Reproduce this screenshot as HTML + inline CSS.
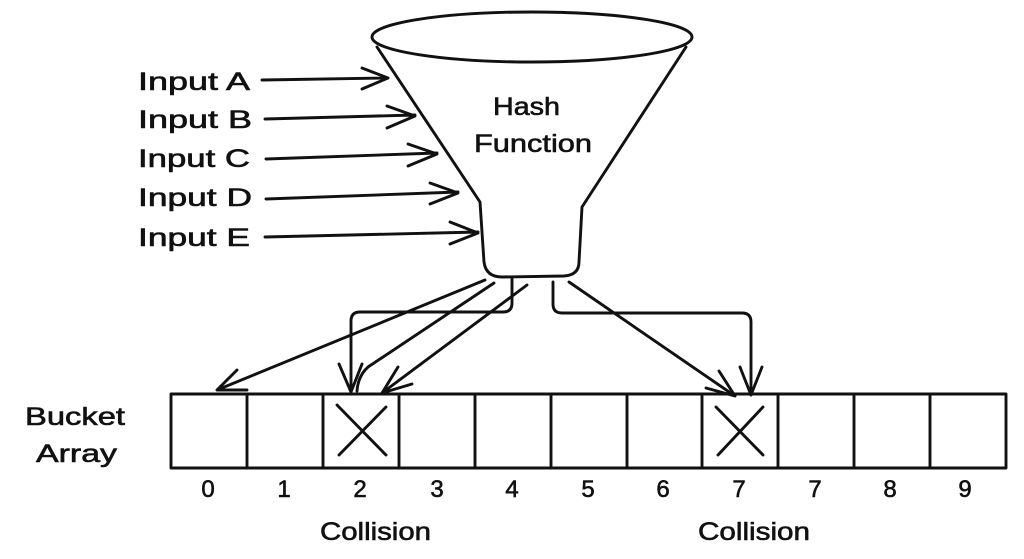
<!DOCTYPE html>
<html><head><meta charset="utf-8"><style>
html,body{margin:0;padding:0;background:#fff;}
svg{display:block;}
text{font-family:"Liberation Sans",sans-serif;fill:#111;stroke:#111;stroke-width:0.6px;}
</style></head><body>
<svg width="1024" height="559" viewBox="0 0 1024 559" xmlns="http://www.w3.org/2000/svg">
<rect width="1024" height="559" fill="#fff"/>
<g fill="none" stroke="#111" stroke-width="2.9" stroke-linecap="round" stroke-linejoin="round">
  <!-- funnel -->
  <path d="M377,47 L480,202 L484,262 Q486,277 502,277 L564,276 Q579,275 579,262 L582,207 L686,47" fill="#fff"/>
  <ellipse cx="532" cy="37" rx="160" ry="25" fill="#fff"/>
  <!-- input arrows -->
  <path d="M262,80 L388,78 M362,68 L388,78 L362,89"/>
  <path d="M265,119 L415,115 M387,106 L415,116 L387,128"/>
  <path d="M266,159 L437,153 M408,144 L437,154 L408,166"/>
  <path d="M266,199 L458,192 M430,183 L458,193 L430,204"/>
  <path d="M265,237 L478,232 M450,222 L478,233 L450,244"/>
  <!-- output arrows -->
  <path d="M485,280 L217,390 M237,370 L217,390 L247,390"/>
  <path d="M512,278 L512,303 Q512,312 503,312 L360,312 Q351,312 351,321 L351,392 M339,364 L351,392 L362,364"/>
  <path d="M494,283 L368,367 Q358,376 357,391"/>
  <path d="M527,285 L382,393 M398,367 L382,393 L412,384"/>
  <path d="M569,282 L735,396 M719,371 L735,396 L706,388"/>
  <path d="M553,282 L553,304 Q553,313 562,313 L742,313 Q751,313 751,322 L751,395 M740,367 L751,395 L762,367"/>
  <!-- bucket array -->
  <rect x="171" y="394" width="835" height="74"/>
  <path d="M247,394 V468 M323,394 V468 M399,394 V468 M475,394 V468 M551,394 V468 M627,394 V468 M702,394 V468 M778,394 V468 M854,394 V468 M930,394 V468"/>
  <!-- X marks -->
  <path d="M337,405 L386,455 M386,407 L339,455"/>
  <path d="M716,407 L763,455 M763,407 L718,455"/>
</g>
<!-- labels -->
<g font-size="25">
  <text x="138" y="90" textLength="112" lengthAdjust="spacingAndGlyphs">Input A</text>
  <text x="138" y="128" textLength="114" lengthAdjust="spacingAndGlyphs">Input B</text>
  <text x="138" y="167" textLength="112" lengthAdjust="spacingAndGlyphs">Input C</text>
  <text x="138" y="206" textLength="114" lengthAdjust="spacingAndGlyphs">Input D</text>
  <text x="138" y="246" textLength="112" lengthAdjust="spacingAndGlyphs">Input E</text>
  <text x="493" y="115" textLength="67" lengthAdjust="spacingAndGlyphs">Hash</text>
  <text x="474" y="152" textLength="118" lengthAdjust="spacingAndGlyphs">Function</text>
  <text x="25" y="425" textLength="100" lengthAdjust="spacingAndGlyphs">Bucket</text>
  <text x="36" y="462" textLength="81" lengthAdjust="spacingAndGlyphs">Array</text>
  <text x="320" y="540" textLength="111" lengthAdjust="spacingAndGlyphs">Collision</text>
  <text x="698" y="540" textLength="112" lengthAdjust="spacingAndGlyphs">Collision</text>
</g>
<g font-size="24" text-anchor="middle">
  <text x="208" y="497">0</text>
  <text x="284" y="497">1</text>
  <text x="360" y="497">2</text>
  <text x="437" y="497">3</text>
  <text x="512" y="497">4</text>
  <text x="588" y="497">5</text>
  <text x="663" y="497">6</text>
  <text x="739" y="497">7</text>
  <text x="815" y="497">7</text>
  <text x="890" y="497">8</text>
  <text x="965" y="497">9</text>
</g>
</svg>
</body></html>
